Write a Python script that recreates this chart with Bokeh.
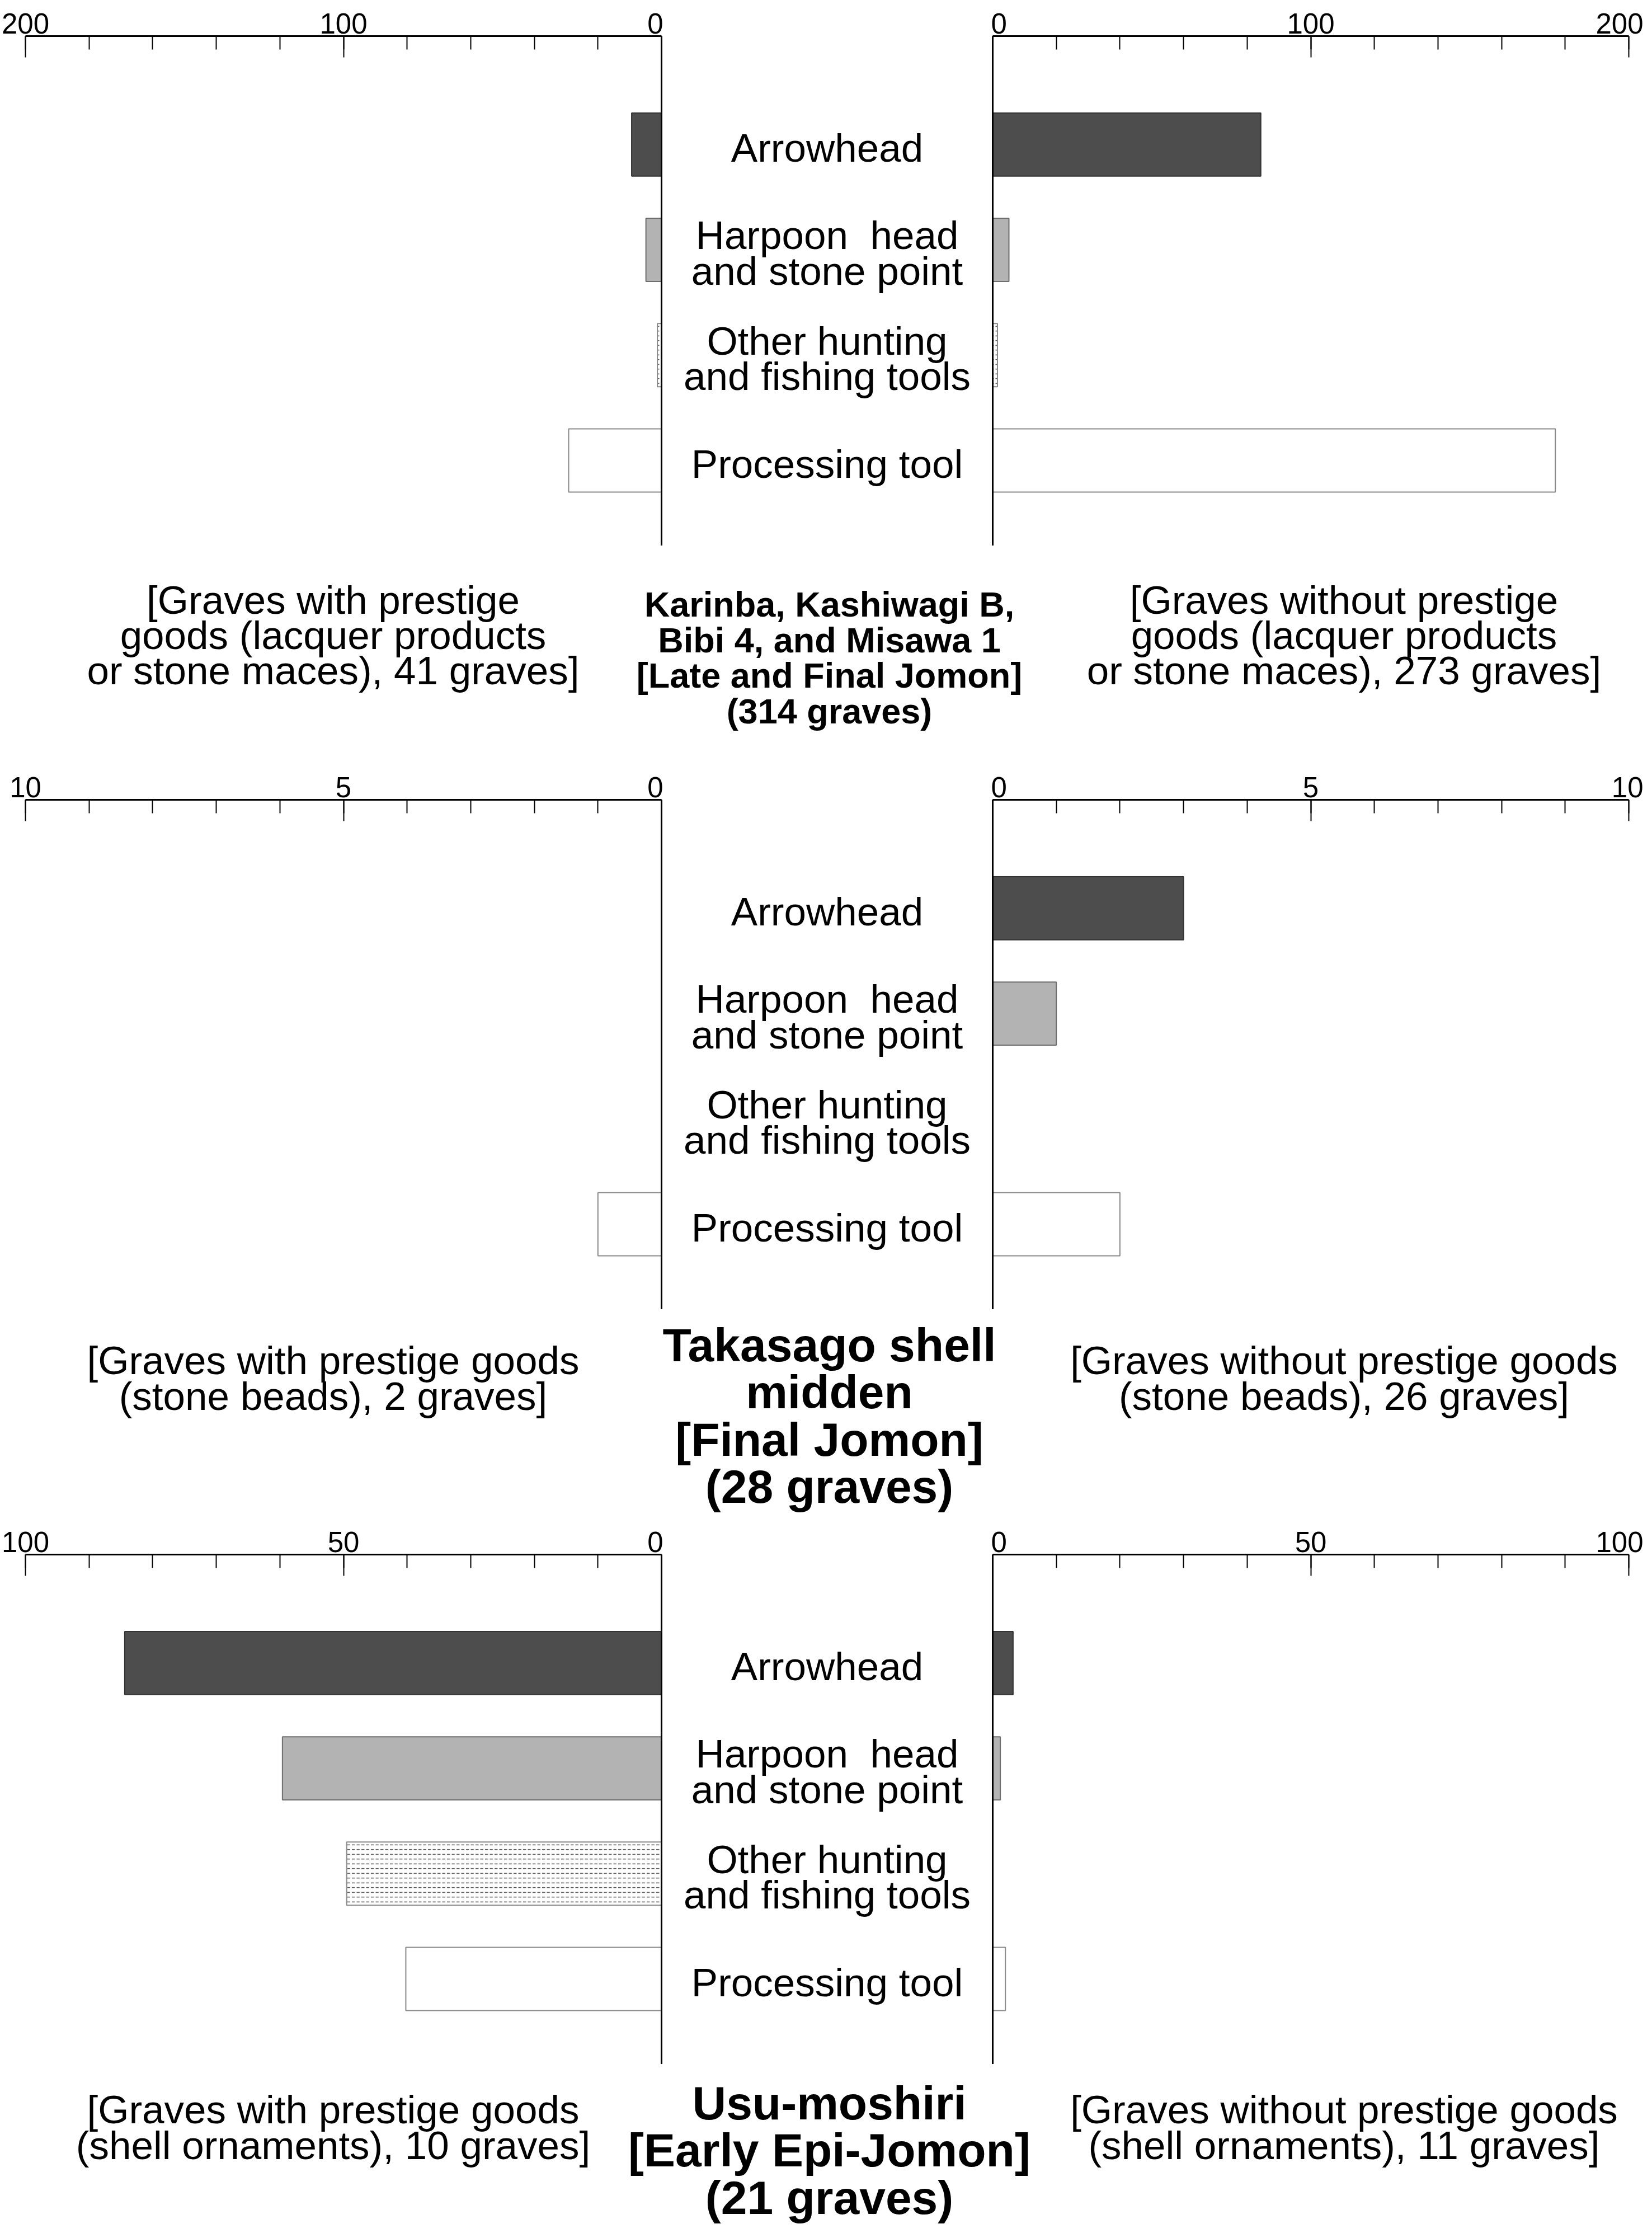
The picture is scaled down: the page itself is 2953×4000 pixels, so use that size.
import numpy as np
from bokeh.plotting import figure
from bokeh.layouts import column, row
from bokeh.models import Range1d, Span, FixedTicker, ColumnDataSource
from bokeh.core.properties import value
from bokeh.embed import file_html
from bokeh.resources import INLINE

FONT = "Liberation Sans"

# tool categories, top to bottom
categories = [
    "Arrowhead",
    "Harpoon \u00a0head\nand stone point",
    "Other hunting\nand fishing tools",
    "Processing tool",
]

# values (same order as categories)
karinba_with = [9.4, 4.9, 1.3, 29.2]
karinba_without = [84.3, 5.1, 1.5, 176.9]
takasago_with = [0, 0, 0, 1]
takasago_without = [3, 1, 0, 2]
usu_with = [84.4, 59.6, 49.5, 40.2]
usu_without = [3.2, 1.2, 0, 2.0]

# axis scale of each panel
axis_max = [200, 10, 100]
major_ticks = [[0, 100, 200], [0, 5, 10], [0, 50, 100]]
minor_step = [20, 1, 10]

site_titles = [
    "Karinba, Kashiwagi B,\nBibi 4, and Misawa 1\n[Late and Final Jomon]\n(314 graves)",
    "Takasago shell\nmidden\n[Final Jomon]\n(28 graves)",
    "Usu-moshiri\n[Early Epi-Jomon]\n(21 graves)",
]
left_captions = [
    "[Graves with prestige\ngoods (lacquer products\nor stone maces), 41 graves]",
    "[Graves with prestige goods\n(stone beads), 2 graves]",
    "[Graves with prestige goods\n(shell ornaments), 10 graves]",
]
right_captions = [
    "[Graves without prestige\ngoods (lacquer products\nor stone maces), 273 graves]",
    "[Graves without prestige goods\n(stone beads), 26 graves]",
    "[Graves without prestige goods\n(shell ornaments), 11 graves]",
]

fills = ["#4d4d4d", "#b3b3b3", "white", "white"]
outlines = ["#333333", "#6e6e6e", "#8a8a8a", "#8a8a8a"]
hatches = ["blank", "blank", "horizontal_dash", "blank"]

ypos = np.arange(len(categories))[::-1]
Y_LO, Y_HI = -0.81, 4.03

PAGE_W = 2937
FRAME_W = 1140
FRAME_H = 911
MID_W = 586
LEFT_B = 45
RIGHT_B = 26
TOP = 64


def blank_figure(w, h, xr, yr, top=0):
    p = figure(frame_width=w, frame_height=h, x_range=xr, y_range=yr,
               x_axis_location=None, y_axis_location=None,
               toolbar_location=None, tools="", output_backend="svg",
               min_border=0, min_border_top=top)
    p.xgrid.visible = False
    p.ygrid.visible = False
    p.outline_line_color = None
    return p


def side_figure(counts, vmax, ticks, step, side):
    pad = vmax * 3 / 1137
    if side == "left":
        xr = Range1d(vmax, -pad)
    else:
        xr = Range1d(-pad, vmax)
    p = figure(frame_width=FRAME_W, frame_height=FRAME_H,
               x_range=xr, y_range=Range1d(Y_LO, Y_HI),
               x_axis_location="above", y_axis_location=None,
               toolbar_location=None, tools="", output_backend="svg",
               min_border_top=TOP, min_border_bottom=0,
               min_border_left=LEFT_B if side == "left" else 0,
               min_border_right=RIGHT_B if side == "right" else 0)
    p.xgrid.visible = False
    p.ygrid.visible = False
    p.outline_line_color = None

    src = ColumnDataSource(data=dict(y=ypos, v=counts, fill=fills,
                                     line=outlines, hatch=hatches))
    p.hbar(y="y", left=0, right="v", height=0.6, source=src,
           fill_color="fill", line_color="line", line_width=2,
           hatch_pattern="hatch", hatch_color="#333333",
           hatch_scale=8.5, hatch_weight=1.3)

    # vertical baseline at zero
    p.add_layout(Span(location=0, dimension="height",
                      line_color="black", line_width=3))

    ax = p.xaxis[0]
    ax.ticker = FixedTicker(ticks=ticks,
                            minor_ticks=list(np.arange(0, vmax + step / 2, step)))
    ax.bounds = (0, vmax)
    ax.axis_line_width = 3
    ax.major_tick_in = 38
    ax.major_tick_out = 0
    ax.minor_tick_in = 24
    ax.minor_tick_out = 0
    ax.major_tick_line_width = 2
    ax.minor_tick_line_width = 2
    ax.major_label_text_font = FONT
    ax.major_label_text_font_size = "51px"
    ax.major_label_text_color = "black"
    ax.major_label_standoff = 5
    return p


def mid_figure():
    p = blank_figure(MID_W, FRAME_H, Range1d(0, 1), Range1d(Y_LO, Y_HI), TOP)
    src = ColumnDataSource(data=dict(y=ypos, label=categories))
    p.text(x=0.5, y="y", text="label", source=src, y_offset=6,
           text_align="center", text_baseline="middle",
           text_font=value(FONT), text_font_size="71px",
           text_line_height=0.8, text_color="black")
    return p


def caption_figure(h, cap_y, ttl_y, left_txt, right_txt, title, size, lh):
    p = blank_figure(PAGE_W, h, Range1d(0, PAGE_W), Range1d(h, 0))
    p.text(x=[595, 2402], y=[cap_y, cap_y], text=[left_txt, right_txt],
           text_align="center", text_baseline="middle",
           text_font=value(FONT), text_font_size="71px",
           text_line_height=0.8, text_color="black")
    p.text(x=[1482], y=[ttl_y], text=[title],
           text_align="center", text_baseline="middle",
           text_font=value(FONT), text_font_size=size,
           text_font_style="bold", text_line_height=lh,
           text_color="black")
    return p


panels = [
    (karinba_with, karinba_without),
    (takasago_with, takasago_without),
    (usu_with, usu_without),
]
# caption height, side caption y, title y, title size, title line height
caption_layout = [
    (390, 160, 200, "63px", 0.91),
    (374, 123, 190, "84px", 0.9),
    (295, 113, 154, "84px", 0.9),
]

blocks = []
for i, (w_vals, wo_vals) in enumerate(panels):
    left = side_figure(w_vals, axis_max[i], major_ticks[i], minor_step[i], "left")
    right = side_figure(wo_vals, axis_max[i], major_ticks[i], minor_step[i], "right")
    blocks.append(row(left, mid_figure(), right))
    h, cy, ty, tsize, tlh = caption_layout[i]
    blocks.append(caption_figure(h, cy, ty, left_captions[i], right_captions[i],
                                 site_titles[i], tsize, tlh))

page = column(*blocks)

open("out.html", "w").write(file_html(page, INLINE))
